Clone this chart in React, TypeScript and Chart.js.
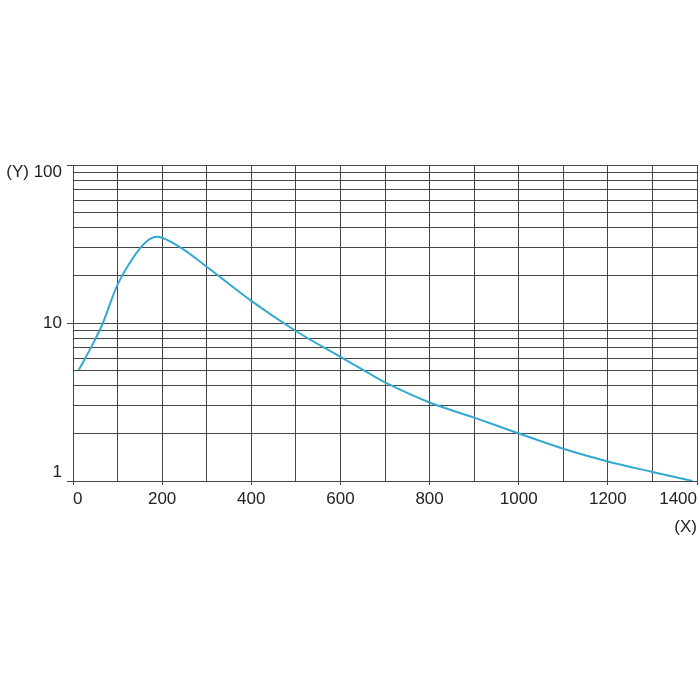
import { useEffect, useRef } from 'react';
import Chart from 'chart.js/auto';

// curve (x, y on log axis)
const xValues = [13, 45, 67, 100, 135, 165, 191, 239, 300, 400, 500, 600, 650, 700, 800, 900, 1000, 1100, 1200, 1300, 1390];
const yValues = [5.05, 7.4, 10, 17.5, 25.9, 32.8, 35.1, 30.3, 22.7, 13.8, 8.9, 6.1, 5.07, 4.21, 3.14, 2.52, 2.0, 1.6, 1.33, 1.14, 1.0];

const xMin = 0;
const xMax = 1400;
const xGridStep = 100;
const xLabelStep = 200;

const yGridValues = [1, 2, 3, 4, 5, 6, 7, 8, 9, 10, 20, 30, 40, 50, 60, 70, 80, 90, 100];
const yLabelValues = [1, 10, 100];
const yLabelTexts = ['1', '10', '(Y) 100'];

const gridColor = '#454545';
const textColor = '#222';
const lineColor = '#33a9d2';
const fontFamily = '"Liberation Sans", Arial, sans-serif';

const App = () => {
  const chartRef = useRef<HTMLCanvasElement>(null);
  const chartInstance = useRef<Chart<'line', { x: number; y: number }[]>>();

  useEffect(() => {
    if (chartInstance.current) {
      chartInstance.current.destroy();
    }
    const ctx = chartRef.current?.getContext('2d');
    if (!ctx) return;

    chartInstance.current = new Chart(ctx, {
      type: 'line',
      data: {
        datasets: [
          {
            data: xValues.map((x, i) => ({ x, y: yValues[i] })),
            borderColor: lineColor,
            borderWidth: 2,
            pointRadius: 0,
            tension: 0.35,
            fill: false,
          },
        ],
      },
      options: {
        animation: false,
        responsive: true,
        maintainAspectRatio: false,
        layout: {
          padding: { top: 165, right: 3, bottom: 159, left: 0 },
        },
        plugins: {
          legend: { display: false },
          tooltip: { enabled: false },
        },
        scales: {
          x: {
            type: 'linear',
            min: xMin,
            max: xMax,
            grid: {
              color: gridColor,
              lineWidth: 1,
              tickLength: 4,
              tickColor: (c: any) => (c.tick && c.tick.value % xLabelStep === 0 ? gridColor : 'transparent'),
            },
            border: { color: gridColor },
            ticks: {
              stepSize: xGridStep,
              autoSkip: false,
              maxRotation: 0,
              align: 'inner',
              padding: 4,
              color: textColor,
              font: { family: fontFamily, size: 17 },
              callback: (v: any) => (Number(v) % xLabelStep === 0 ? String(v) : ''),
            },
            title: {
              display: true,
              text: '(X)',
              align: 'end',
              color: textColor,
              font: { family: fontFamily, size: 17 },
              padding: { top: 0, bottom: 3 },
            },
            afterFit: (scale: any) => {
              scale.height = 60;
              scale.paddingLeft = 0;
              scale.paddingRight = 0;
            },
          },
          y: {
            type: 'logarithmic',
            min: 1,
            max: 100,
            grid: {
              color: gridColor,
              lineWidth: 1,
              tickLength: 6,
              tickColor: (c: any) => (c.tick && yLabelValues.includes(c.tick.value) ? gridColor : 'transparent'),
            },
            border: { color: gridColor },
            afterBuildTicks: (scale: any) => {
              scale.ticks = yGridValues.map((value) => ({ value }));
            },
            ticks: {
              autoSkip: false,
              padding: 5,
              color: textColor,
              font: (c: any) => {
                const v = c.tick ? c.tick.value : 0;
                return {
                  family: fontFamily,
                  size: 17,
                  lineHeight: v === 100 ? '15px' : v === 1 ? '18px' : 1.2,
                };
              },
              callback: (v: any) => {
                const i = yLabelValues.indexOf(Number(v));
                if (i < 0) return '';
                // keep the end labels inside the plot like the original
                if (yLabelValues[i] === 100) return ['', yLabelTexts[i]];
                if (yLabelValues[i] === 1) return [yLabelTexts[i], ''];
                return yLabelTexts[i];
              },
            },
            afterFit: (scale: any) => {
              scale.width = 73;
              scale.paddingTop = 0;
              scale.paddingBottom = 0;
            },
          },
        },
      },
    });

    return () => {
      if (chartInstance.current) {
        chartInstance.current.destroy();
      }
    };
  }, []);

  return (
    <div style={{ position: 'absolute', left: 0, top: 0, width: 700, height: 700, background: '#fff' }}>
      <canvas ref={chartRef} />
    </div>
  );
};

export default App;
